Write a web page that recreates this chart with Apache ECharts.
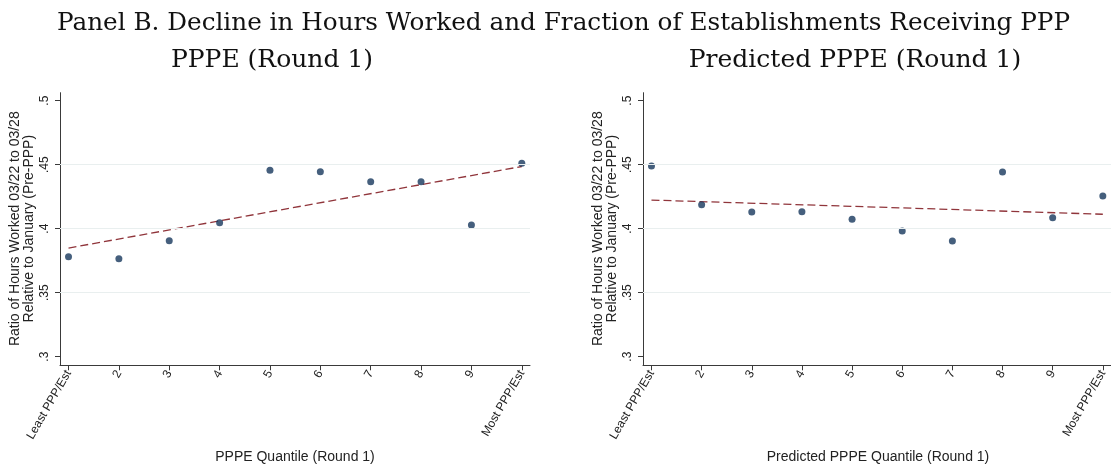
<!DOCTYPE html>
<html>
<head>
<meta charset="utf-8">
<title>Panel B. Decline in Hours Worked and Fraction of Establishments Receiving PPP</title>
<script src="https://cdn.jsdelivr.net/npm/echarts@6/dist/echarts.min.js"></script>
<style>
  html, body { margin: 0; padding: 0; background: #ffffff; }
  #chart { width: 1111px; height: 466px; }
</style>
</head>
<body>
<div id="chart"></div>
<script>
// Quantile positions and their tick labels (shared by both panels)
const quantiles = [1, 2, 3, 4, 5, 6, 7, 8, 9, 10];
const quantileLabels = ['Least PPP/Est', '2', '3', '4', '5', '6', '7', '8', '9', 'Most PPP/Est'];
const yTicks = [0.3, 0.35, 0.4, 0.45, 0.5];
const yGridValues = [0.35, 0.4, 0.45];

// Left panel: binned means by PPPE quantile (Round 1)
const ratioByPPPE = [0.378, 0.3766, 0.3906, 0.4047, 0.4456, 0.4445, 0.4367, 0.4367, 0.4029, 0.4511];
// Linear fit, value at the first and last quantile
const fitPPPE = [0.3849, 0.4486];

// Right panel: binned means by predicted PPPE quantile (Round 1)
const ratioByPredicted = [0.449, 0.4188, 0.413, 0.4133, 0.4073, 0.3982, 0.3904, 0.4443, 0.4086, 0.4255];
const fitPredicted = [0.4224, 0.4113];

const titleMain = 'Panel B. Decline in Hours Worked and Fraction of Establishments Receiving PPP';
const panelTitles = ['PPPE (Round 1)', 'Predicted PPPE (Round 1)'];
const xTitles = ['PPPE Quantile (Round 1)', 'Predicted PPPE Quantile (Round 1)'];
const yTitleLines = ['Ratio of Hours Worked 03/22 to 03/28', 'Relative to January (Pre-PPP)'];

const NAVY = '#16375c';
const MAROON = '#90353b';
const AXIS = '#3a3a3a';
const GRID = '#e9efef';
const SANS = 'Liberation Sans, Arial, sans-serif';
const SERIF = 'DejaVu Serif, serif';

const panelLeft = [60, 643];
const gridTop = 92.7;
const gridHeight = 272.6;
const gridWidth = 470;

function fmtTick(v) {
  return String(Math.round(v * 100) / 100).replace(/^0\./, '.');
}

function xAxisFor(i) {
  return {
    type: 'value', gridIndex: i,
    min: 0.831, max: 10.163,
    axisLine: { show: true, lineStyle: { color: AXIS, width: 1 } },
    axisTick: { show: true, customValues: quantiles, length: 5, lineStyle: { color: AXIS } },
    axisLabel: {
      customValues: quantiles,
      rotate: 60, margin: 6,
      fontFamily: SANS, fontSize: 12, color: '#222',
      formatter: v => quantileLabels[quantiles.indexOf(Math.round(v))]
    },
    splitLine: { show: false }
  };
}

function yAxisFor(i) {
  return {
    type: 'value', gridIndex: i,
    min: 0.29328, max: 0.50625,
    axisLine: { show: true, lineStyle: { color: AXIS, width: 1 } },
    axisTick: { show: true, customValues: yTicks, length: 5, lineStyle: { color: AXIS } },
    axisLabel: {
      customValues: yTicks,
      rotate: 90, margin: 9,
      fontFamily: SANS, fontSize: 12, color: '#222',
      formatter: fmtTick
    },
    splitLine: { show: false }
  };
}

function seriesFor(i, values, fit) {
  return [
    {
      type: 'line', xAxisIndex: i, yAxisIndex: i, data: [], silent: true, z: 1,
      markLine: {
        silent: true, symbol: 'none', label: { show: false },
        lineStyle: { color: GRID, width: 1.2, type: 'solid' },
        data: yGridValues.map(v => ({ yAxis: v }))
      }
    },
    {
      type: 'line', xAxisIndex: i, yAxisIndex: i, z: 3,
      data: [[quantiles[0], fit[0]], [quantiles[quantiles.length - 1], fit[1]]],
      showSymbol: false, symbol: 'none',
      lineStyle: { color: MAROON, width: 1.3, type: [8, 4] }
    },
    {
      type: 'scatter', xAxisIndex: i, yAxisIndex: i, z: 4,
      data: quantiles.map((q, k) => [q, values[k]]),
      symbolSize: 7,
      itemStyle: { color: NAVY }
    }
  ];
}

const graphics = [];
[0, 1].forEach(i => {
  const left = panelLeft[i];
  // y-axis title, two rotated lines
  graphics.push({
    type: 'text', x: left - 38, y: gridTop + 136, rotation: Math.PI / 2,
    style: {
      text: yTitleLines.join('\n'), fontFamily: SANS, fontSize: 14, lineHeight: 14,
      fill: '#222', align: 'center', verticalAlign: 'middle'
    }
  });
  // x-axis title
  graphics.push({
    type: 'text', x: left + 235, y: 457,
    style: {
      text: xTitles[i], fontFamily: SANS, fontSize: 14,
      fill: '#222', align: 'center', verticalAlign: 'middle'
    }
  });
});

const headStyle = { fontFamily: SERIF, fontSize: 24.7, fontWeight: 'normal', color: '#111' };
const subStyle = { fontFamily: SERIF, fontSize: 25, fontWeight: 'normal', color: '#111' };
const chart = echarts.init(document.getElementById('chart'), null, { renderer: 'canvas' });
chart.setOption({
  backgroundColor: '#ffffff',
  animation: false,
  title: [
    { text: titleMain, left: 558.5, top: 6, textAlign: 'center', textStyle: headStyle },
    { text: panelTitles[0], left: 267, top: 43, textAlign: 'center', textStyle: subStyle },
    { text: panelTitles[1], left: 850, top: 43, textAlign: 'center', textStyle: subStyle }
  ],
  grid: [0, 1].map(i => ({
    left: panelLeft[i], top: gridTop, width: gridWidth, height: gridHeight, containLabel: false
  })),
  xAxis: [xAxisFor(0), xAxisFor(1)],
  yAxis: [yAxisFor(0), yAxisFor(1)],
  series: [...seriesFor(0, ratioByPPPE, fitPPPE), ...seriesFor(1, ratioByPredicted, fitPredicted)],
  graphic: graphics
});
</script>
</body>
</html>
